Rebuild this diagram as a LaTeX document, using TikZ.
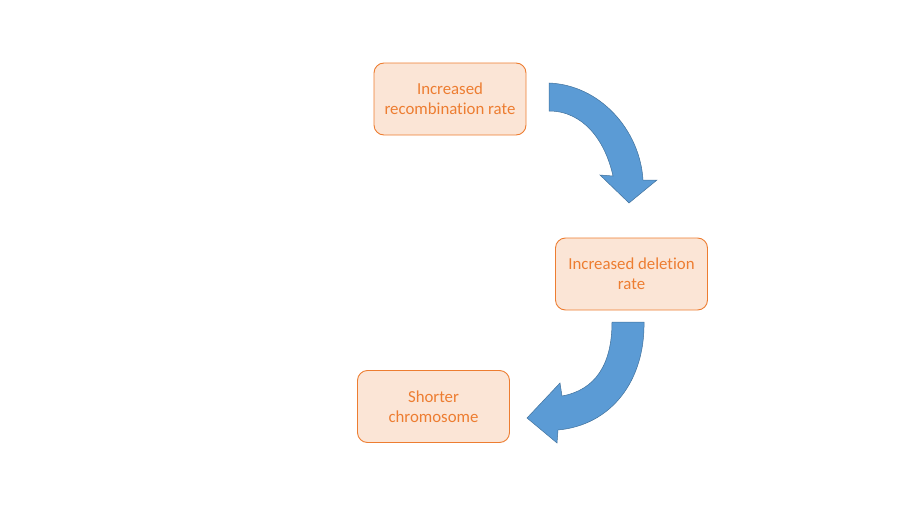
\documentclass[tikz,border=0pt]{standalone}
\usepackage{fontspec}
\setmainfont{Carlito}[Ligatures=NoCommon]
\usepackage{xcolor}
\usetikzlibrary{calc}
\definecolor{highlightcolorb}{HTML}{ED7D31}
\definecolor{washedcolorb}{HTML}{FBE5D6}
\definecolor{arrowfillb}{HTML}{5B9BD5}
\definecolor{arrowdrawb}{HTML}{41719C}
\colorlet{highlightcolor}{highlightcolorb}
\colorlet{washedcolor}{washedcolorb}
\tikzstyle{stepbox} = [
    draw=highlightcolor,
    fill=washedcolor,
    text=highlightcolor,
    line width=0.9pt,
    rounded corners=10pt,
    minimum width=152pt,
    minimum height=72pt,
    align=center,
    font=\fontsize{16.8}{20}\selectfont
    ]
\tikzstyle{blockarrow} = [
    fill=arrowfillb,
    draw=arrowdrawb,
    line width=0.5pt
    ]

\begin{document}
\begin{tikzpicture}[x=1pt,y=-1pt]
\useasboundingbox (0,0) rectangle (900,506);

\node [stepbox] (recomb) at (450,99) {Increased\\recombination rate};
\node [stepbox] (deletion) at (631.5,274) {Increased deletion\\rate};
\node [stepbox] (shorter) at (433.5,406.5) {Shorter\\chromosome};

% curved arrows between the boxes
\draw [blockarrow] (549,83) .. controls (600,85) and (640,130) .. (643,180)
    -- (657,180) -- (629,203) -- (600,175) -- (613,176)
    .. controls (605,140) and (583,111) .. (549,111) -- cycle;
\draw [blockarrow] (612,322) .. controls (612,365) and (595,390) .. (562,396)
    -- (560,383) -- (527,418) -- (557,443) -- (558,430)
    .. controls (612,425) and (645,380) .. (644,322) -- cycle;
\end{tikzpicture}
\end{document}
